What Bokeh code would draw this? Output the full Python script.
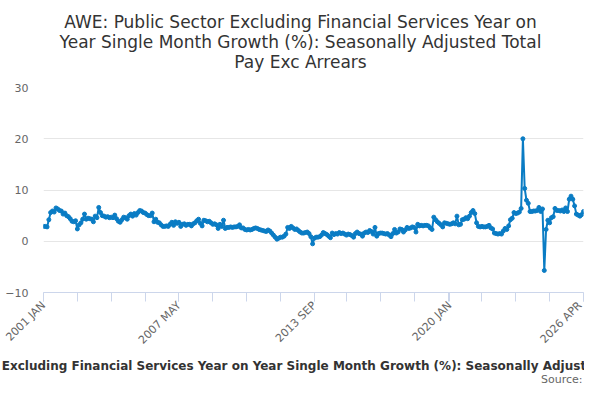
import math
from bokeh.plotting import figure
from bokeh.models import Range1d, FixedTicker, Label, ColumnDataSource
from bokeh.embed import file_html
from bokeh.resources import INLINE

TITLE_LINES = [
    "AWE: Public Sector Excluding Financial Services Year on",
    "Year Single Month Growth (%): Seasonally Adjusted Total",
    "Pay Exc Arrears",
]
AXIS_TITLE = ("AWE: Public Sector Excluding Financial Services Year on Year Single Month "
              "Growth (%): Seasonally Adjusted Total Pay Exc Arrears")
SOURCE = "Source:"

start_year = 2001
month_names = ["JAN", "FEB", "MAR", "APR", "MAY", "JUN",
               "JUL", "AUG", "SEP", "OCT", "NOV", "DEC"]

# monthly values, 2001 JAN .. 2026 APR
v2001_2005 = [2.9, 2.9, 2.8, 4.2, 5.6, 5.9, 5.7, 6.5, 6.3, 6.0,
              5.9, 5.3, 5.5, 5.0, 4.8, 4.4, 3.9, 3.8, 4.0, 2.4,
              3.2, 3.6, 4.3, 5.3, 4.3, 4.5, 4.4, 4.3, 3.8, 4.9,
              4.6, 6.6, 5.6, 5.0, 4.9, 4.7, 4.8, 4.6, 4.7, 4.6,
              5.1, 4.4, 3.9, 3.7, 4.2, 4.7, 4.6, 4.3, 5.0, 5.3,
              4.9, 5.4, 5.1, 5.6, 6.0, 5.9, 5.6, 5.5, 5.2, 5.0]
v2006_2010 = [5.0, 5.5, 3.8, 4.3, 3.7, 3.6, 3.2, 2.9, 2.9, 3.0,
              2.9, 3.3, 3.7, 3.1, 3.8, 3.5, 3.7, 2.9, 3.3, 3.4,
              3.1, 3.3, 3.3, 3.0, 3.4, 3.6, 4.0, 4.3, 3.5, 3.0,
              4.1, 4.0, 3.8, 3.9, 3.6, 3.3, 3.4, 3.2, 2.5, 3.3,
              2.9, 4.1, 2.5, 2.7, 2.7, 2.8, 2.7, 2.8, 2.8, 2.9,
              3.2, 2.6, 2.6, 2.3, 2.2, 2.3, 2.2, 2.3, 2.5, 2.6]
v2011_2015 = [2.5, 2.3, 2.2, 2.1, 2.0, 1.9, 2.2, 2.0, 1.6, 1.2,
              0.8, 0.4, 0.6, 0.8, 0.8, 1.0, 1.4, 2.7, 2.5, 2.9,
              2.6, 2.3, 2.4, 2.1, 1.8, 1.6, 1.6, 1.7, 1.8, 1.5,
              0.9, -0.5, 0.6, 0.8, 0.8, 0.9, 1.2, 1.7, 1.5, 1.3,
              1.0, 0.7, 1.6, 1.3, 1.5, 1.4, 1.7, 1.5, 1.6, 1.4,
              1.2, 1.4, 1.3, 1.1, 0.8, 1.5, 1.8, 1.5, 1.4, 1.0]
v2016_2020 = [1.6, 1.8, 1.7, 2.1, 1.9, 1.4, 2.7, 1.0, 1.5, 1.6,
              1.6, 1.5, 1.4, 1.5, 1.2, 0.9, 1.5, 2.3, 1.6, 1.8,
              2.4, 2.3, 1.8, 2.2, 2.7, 2.5, 2.6, 2.8, 2.7, 1.8,
              3.3, 3.0, 3.1, 3.0, 3.1, 3.1, 3.0, 2.6, 2.3, 4.7,
              4.2, 3.8, 3.5, 3.2, 2.8, 3.6, 3.5, 3.4, 3.3, 3.4,
              3.6, 3.4, 4.9, 3.2, 3.3, 4.2, 4.3, 4.6, 4.4, 4.9]
v2021_2026 = [5.6, 6.0, 5.4, 3.6, 2.9, 2.8, 2.9, 2.8, 2.8, 2.9,
              3.1, 2.6, 2.4, 1.6, 1.5, 1.4, 1.5, 1.4, 2.0, 2.5,
              2.3, 3.0, 4.2, 4.5, 5.6, 5.4, 5.5, 5.7, 6.4, 20.0,
              10.3, 8.0, 7.4, 5.8, 5.8, 5.9, 5.9, 6.0, 6.6, 5.8,
              6.3, -5.7, 2.3, 4.1, 3.6, 4.6, 4.8, 6.4, 6.0, 6.0,
              5.9, 6.1, 5.8, 6.5, 5.8, 8.2, 8.8, 8.2, 6.9, 5.3,
              5.1, 4.9, 5.2, 5.8]

values = v2001_2005 + v2006_2010 + v2011_2015 + v2016_2020 + v2021_2026
months = ["%d %s" % (start_year + i // 12, month_names[i % 12]) for i in range(len(values))]
tick_labels = ["2001 JAN", "2007 MAY", "2013 SEP", "2020 JAN", "2026 APR"]
y_ticks = [-10, 0, 10, 20, 30]

idx = list(range(len(values)))
src = ColumnDataSource(dict(x=idx, y=values, month=months))

W, H = 584, 384
FL, FR, FT, FB = 43, 1, 87, 92

p = figure(width=W, height=H, output_backend="svg", toolbar_location=None, title=None,
           x_range=Range1d(0, len(values) - 1), y_range=Range1d(-10, 30),
           min_border_left=FL, min_border_right=FR, min_border_top=FT,
           min_border_bottom=FB)
p.outline_line_color = None
p.background_fill_color = "white"
p.border_fill_color = "white"

LINE = "#0a7cc4"
p.line("x", "y", source=src, line_color=LINE, line_width=2)
p.scatter("x", "y", source=src, size=4, color=LINE)

major = [months.index(t) for t in tick_labels]
n_int = 16
minor = [round(k * (len(values) - 1) / n_int) for k in range(n_int + 1)]
xa = p.xaxis[0]
xa.ticker = FixedTicker(ticks=major, minor_ticks=minor)
xa.major_label_overrides = {m: t for m, t in zip(major, tick_labels)}
xa.major_label_orientation = math.pi / 4
xa.axis_line_color = "#ccd6eb"
xa.major_tick_line_color = "#ccd6eb"
xa.minor_tick_line_color = "#ccd6eb"
xa.major_tick_out = 9
xa.major_tick_in = 0
xa.minor_tick_out = 9
xa.minor_tick_in = 0
xa.major_label_standoff = 2
xa.major_label_text_font = "DejaVu Sans"
xa.major_label_text_font_size = "11px"
xa.major_label_text_color = "#666666"

ya = p.yaxis[0]
ya.ticker = FixedTicker(ticks=y_ticks)
ya.axis_line_color = None
ya.major_tick_line_color = None
ya.minor_tick_line_color = None
ya.major_tick_out = 0
ya.major_tick_in = 0
ya.major_label_standoff = 15
ya.major_label_text_font = "DejaVu Sans"
ya.major_label_text_font_size = "11px"
ya.major_label_text_color = "#666666"

p.xgrid.grid_line_color = None
p.ygrid.grid_line_color = "#e6e6e6"
p.ygrid.ticker = FixedTicker(ticks=y_ticks)

frame_w = W - FL - FR
cx = 300 - FL
# title lines: panels stack outward from the frame, nearest first
for line in reversed(TITLE_LINES):
    p.add_layout(Label(x=cx, y=26, x_units="screen", y_units="screen",
                       text=line, text_align="center", text_baseline="alphabetic",
                       text_font="DejaVu Sans", text_font_size="17px",
                       text_color="#333333"), "above")

p.add_layout(Label(x=309 - FL, y=3, x_units="screen", y_units="screen",
                   text=AXIS_TITLE, text_align="center", text_baseline="alphabetic",
                   text_font="DejaVu Sans", text_font_size="12px", text_font_style="bold",
                   text_color="#333333"), "below")
p.add_layout(Label(x=frame_w - 1, y=2, x_units="screen", y_units="screen",
                   text=SOURCE, text_align="right", text_baseline="alphabetic",
                   text_font="DejaVu Sans", text_font_size="11px",
                   text_color="#666666"), "below")

open("out.html", "w").write(file_html(p, INLINE))
